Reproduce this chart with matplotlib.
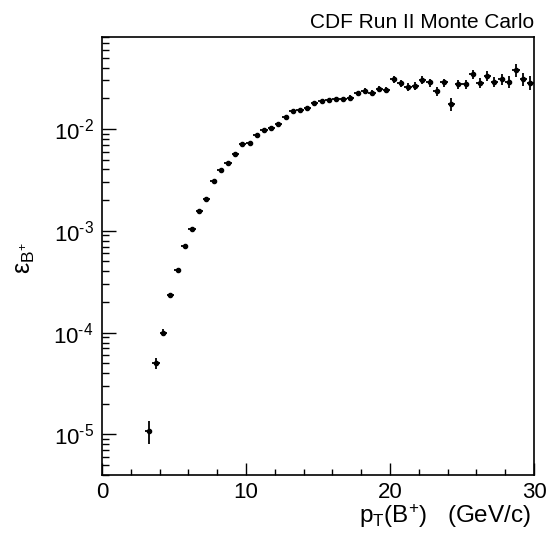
import numpy as np
import matplotlib
matplotlib.use("Agg")
import matplotlib.pyplot as plt
from matplotlib.ticker import LogLocator, MultipleLocator, NullFormatter, FuncFormatter

plt.rcParams["font.family"] = ["Liberation Sans", "DejaVu Sans"]
plt.rcParams["mathtext.fontset"] = "custom"
plt.rcParams["mathtext.rm"] = "Liberation Sans"
plt.rcParams["mathtext.it"] = "Liberation Sans"
plt.rcParams["mathtext.default"] = "regular"
plt.rcParams["axes.unicode_minus"] = False

# ── Data (bin centres in GeV/c, efficiency, relative error) ────────────────
pt = np.arange(3.25, 30.0, 0.5)
eff = [
    1.08e-5, 5.0e-5, 1.0e-4, 2.34e-4, 4.09e-4, 7.15e-4, 1.05e-3, 1.56e-3,
    2.07e-3, 3.08e-3, 3.98e-3, 4.60e-3, 5.64e-3, 7.12e-3, 7.28e-3, 8.67e-3,
    9.78e-3, 1.03e-2, 1.13e-2, 1.30e-2, 1.51e-2, 1.55e-2, 1.60e-2, 1.78e-2,
    1.87e-2, 1.93e-2, 1.96e-2, 1.97e-2, 2.03e-2, 2.24e-2, 2.36e-2, 2.27e-2,
    2.47e-2, 2.42e-2, 3.08e-2, 2.81e-2, 2.60e-2, 2.64e-2, 3.03e-2, 2.87e-2,
    2.36e-2, 2.87e-2, 1.76e-2, 2.75e-2, 2.75e-2, 3.44e-2, 2.85e-2, 3.32e-2,
    2.92e-2, 3.08e-2, 2.92e-2, 3.80e-2, 3.10e-2, 2.85e-2,
]
rel_err = [
    0.25, 0.13, 0.08, 0.05, 0.04, 0.04, 0.04, 0.03, 0.03, 0.03, 0.03, 0.03,
    0.03, 0.03, 0.03, 0.03, 0.03, 0.03, 0.03, 0.03, 0.04, 0.04, 0.04, 0.04,
    0.04, 0.04, 0.05, 0.05, 0.05, 0.06, 0.06, 0.06, 0.06, 0.06, 0.08, 0.08,
    0.09, 0.09, 0.09, 0.09, 0.10, 0.09, 0.14, 0.11, 0.11, 0.11, 0.11, 0.11,
    0.11, 0.12, 0.13, 0.14, 0.15, 0.16,
]

eff = np.array(eff)
yerr = eff * np.array(rel_err)
xerr = 0.25


def pow10_label(v, _):
    # ROOT-style exponent with a short hyphen
    e = int(round(np.log10(v)))
    return r"$10^{\text{%d}}$" % e


# ── Figure ──────────────────────────────────────────────────────────────────
fig = plt.figure(figsize=(5.49, 5.41), dpi=100)
ax = fig.add_axes([102 / 549, 66 / 541, 432 / 549, 438 / 541])

ax.errorbar(pt, eff, xerr=xerr, yerr=yerr, fmt="o", color="black",
            markersize=3.0, elinewidth=1.3, capsize=0)

ax.set_yscale("log")
ax.set_xlim(0, 30)
ax.set_ylim(4e-6, 0.08)

ax.xaxis.set_major_locator(MultipleLocator(10))
ax.xaxis.set_minor_locator(MultipleLocator(2))
ax.yaxis.set_major_locator(LogLocator(base=10))
ax.yaxis.set_major_formatter(FuncFormatter(pow10_label))
ax.yaxis.set_minor_locator(LogLocator(base=10, subs=np.arange(2, 10)))
ax.yaxis.set_minor_formatter(NullFormatter())

ax.tick_params(axis="both", which="both", direction="in", top=False, right=False,
               labelsize=16, width=1.0, pad=6)
ax.tick_params(axis="x", which="major", length=8.5, pad=5)
ax.tick_params(axis="x", which="minor", length=4.3)
ax.tick_params(axis="y", which="major", length=10)
ax.tick_params(axis="y", which="minor", length=5)
for s in ax.spines.values():
    s.set_linewidth(1.2)

fig.text(534 / 549, 1 - 28 / 541, "CDF Run II Monte Carlo", ha="right",
         va="baseline", fontsize=15)
fig.text(531 / 549, 1 - 523 / 541, r"$p_{T}(B^{+})$   (GeV/c)", ha="right",
         va="baseline", fontsize=17.5)
fig.text(37 / 549, 1 - 258 / 541, r"$ε_{B^{+}}$", ha="right", va="center",
         rotation=90, fontsize=18)

fig.savefig("out.png", dpi=100)
